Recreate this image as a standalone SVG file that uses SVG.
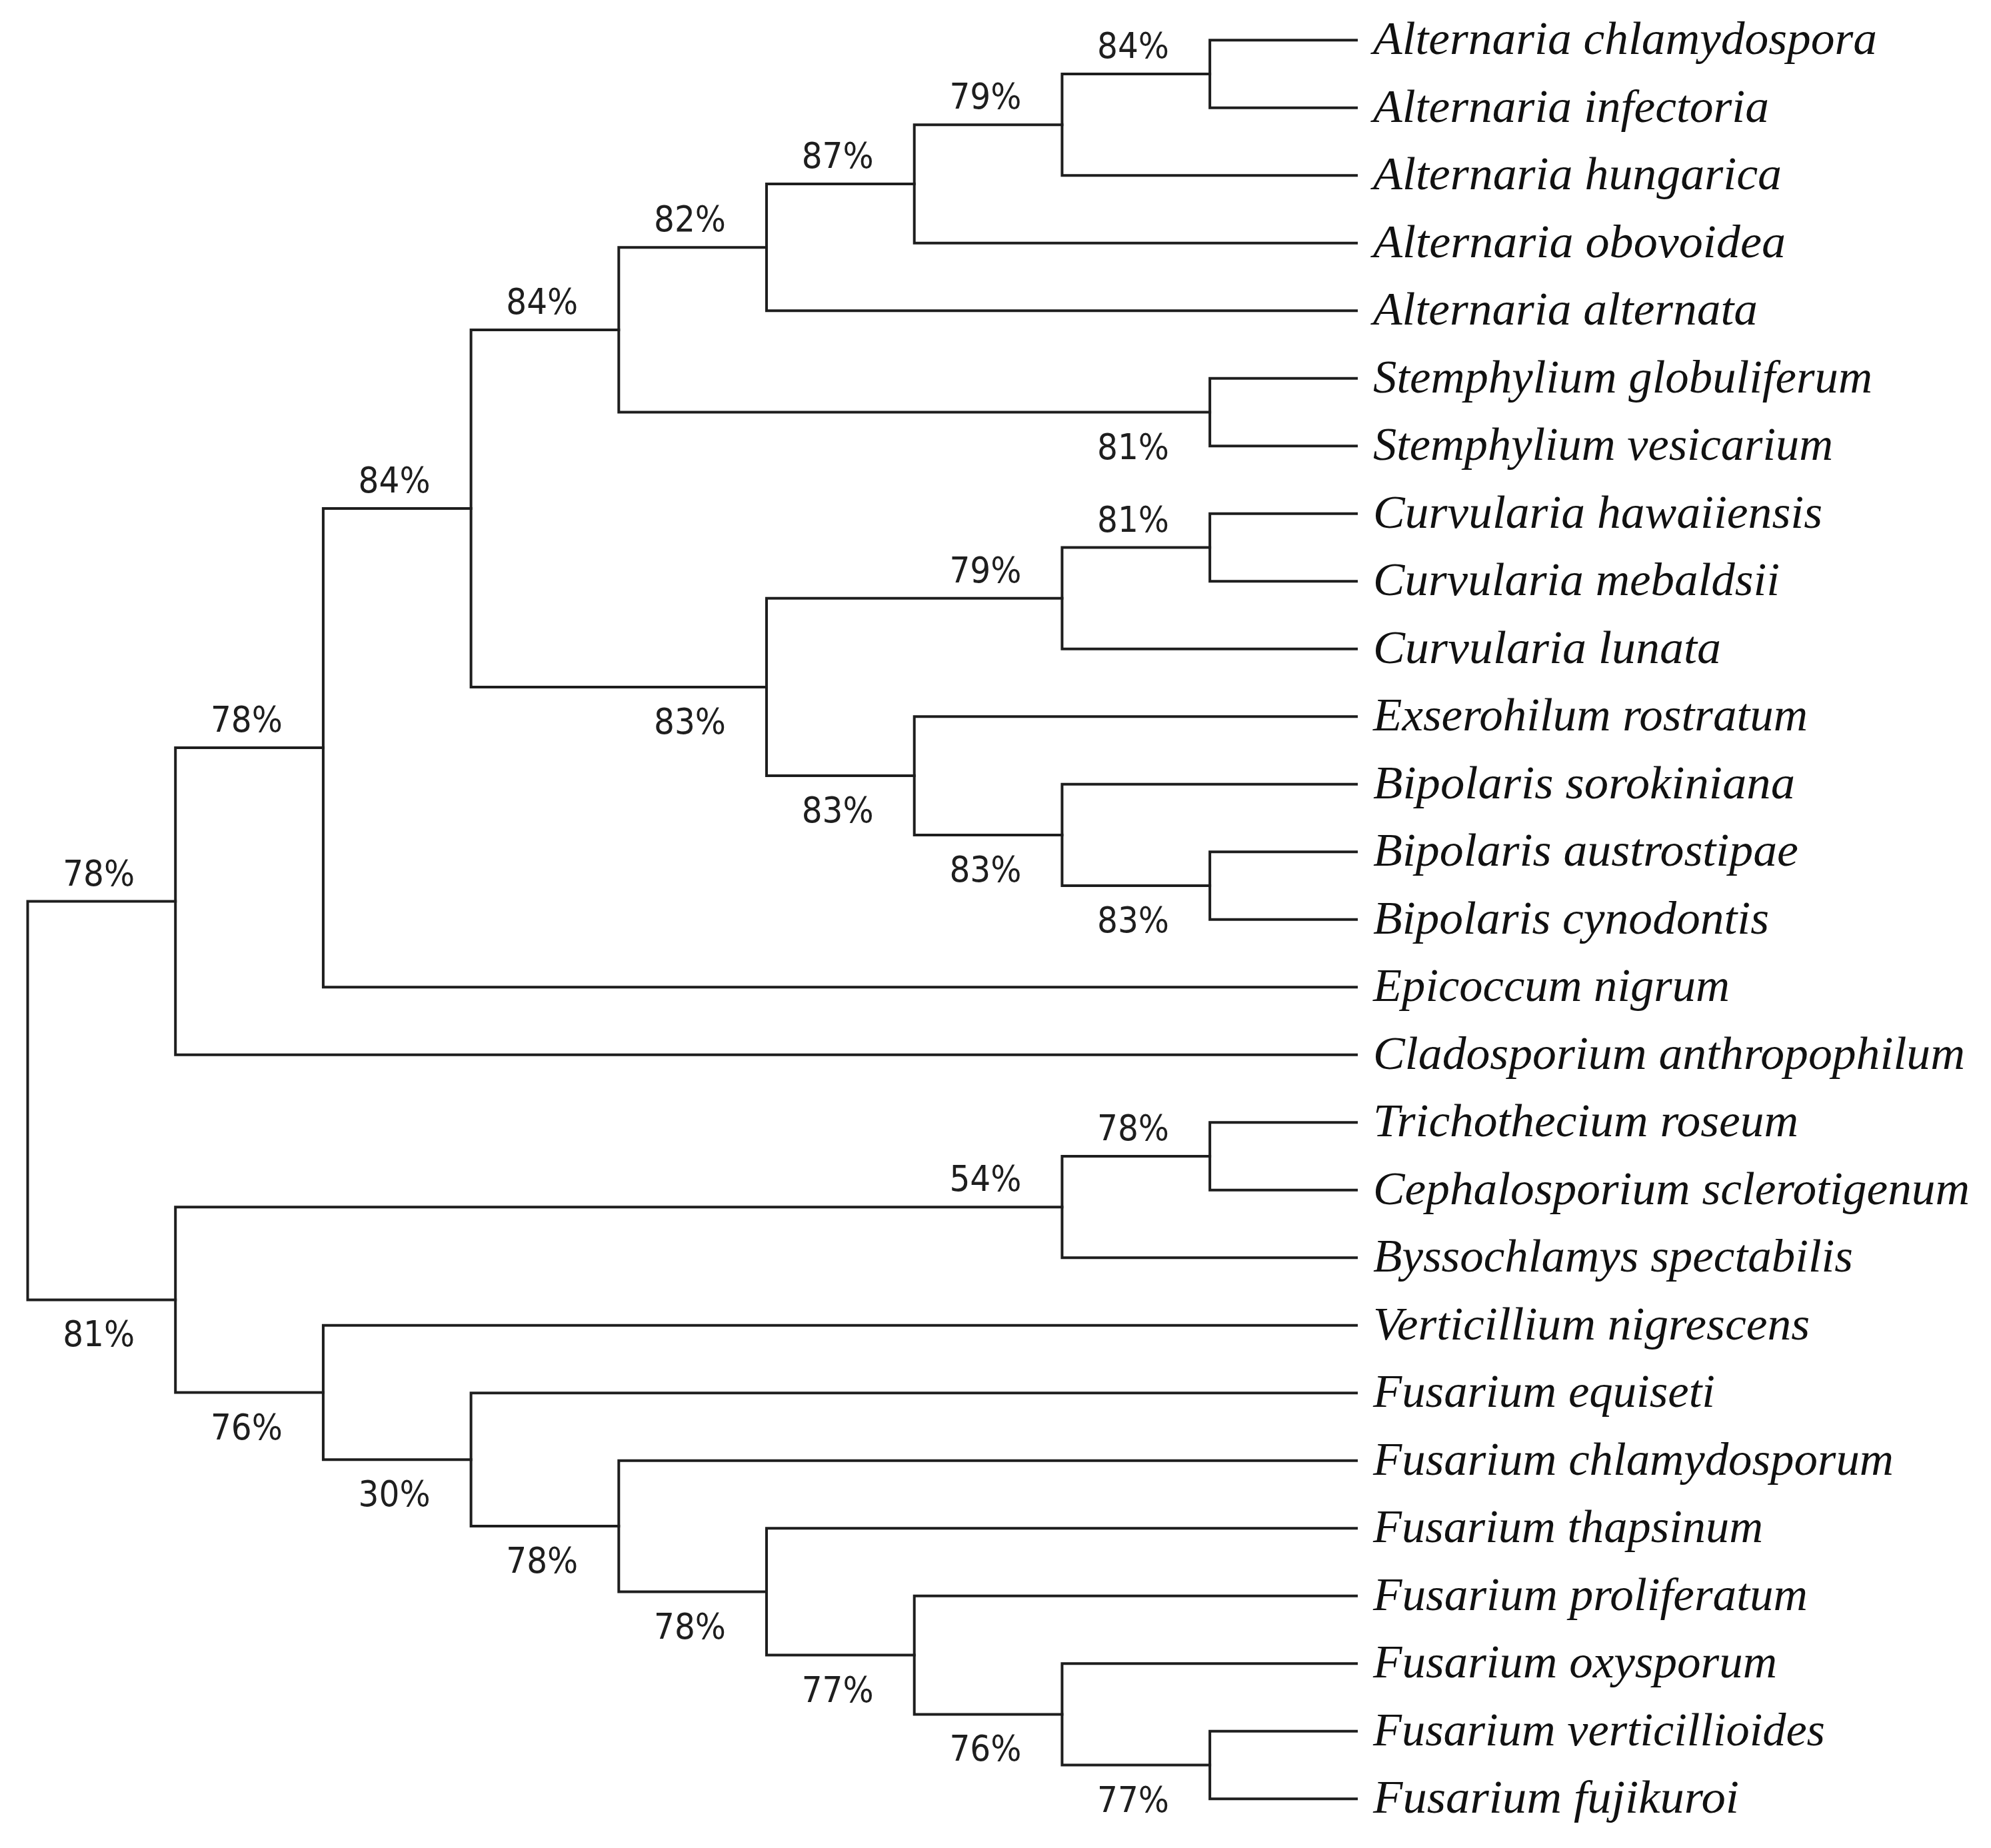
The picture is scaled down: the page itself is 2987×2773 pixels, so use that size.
<svg xmlns="http://www.w3.org/2000/svg" width="2987" height="2773" viewBox="0 0 2987 2773">
<style>
.br{fill:none;stroke:#1e1e1e;stroke-width:4;stroke-linejoin:miter;stroke-linecap:square}
.pc{font-family:"DejaVu Sans","Liberation Sans",sans-serif;font-size:53px;text-anchor:middle;fill:#1e1e1e}
.sp{font-family:"Liberation Serif","Times New Roman",serif;font-style:italic;font-size:70px;fill:#111}
</style>
<rect width="2987" height="2773" fill="#fff"/>
<g id="connectors">
<path class="br" d="M2035 60.3H1815.1V161.8H2035"/>
<path class="br" d="M1815.1 111.1H1593.4V263.3H2035"/>
<path class="br" d="M1593.4 187.2H1371.7V364.8H2035"/>
<path class="br" d="M1371.7 276H1150V466.3H2035"/>
<path class="br" d="M2035 567.8H1815.1V669.3H2035"/>
<path class="br" d="M1150 371.2H928.3V618.6H1815.1"/>
<path class="br" d="M2035 770.8H1815.1V872.3H2035"/>
<path class="br" d="M1815.1 821.6H1593.4V973.8H2035"/>
<path class="br" d="M2035 1278.3H1815.1V1379.8H2035"/>
<path class="br" d="M2035 1176.8H1593.4V1329.1H1815.1"/>
<path class="br" d="M2035 1075.3H1371.7V1252.9H1593.4"/>
<path class="br" d="M1593.4 897.7H1150V1164.1H1371.7"/>
<path class="br" d="M928.3 494.9H706.6V1030.9H1150"/>
<path class="br" d="M706.6 762.9H484.9V1481.3H2035"/>
<path class="br" d="M484.9 1122.1H263.2V1582.8H2035"/>
<path class="br" d="M2035 1684.3H1815.1V1785.8H2035"/>
<path class="br" d="M1815.1 1735.1H1593.4V1887.3H2035"/>
<path class="br" d="M2035 2597.8H1815.1V2699.3H2035"/>
<path class="br" d="M2035 2496.3H1593.4V2648.6H1815.1"/>
<path class="br" d="M2035 2394.8H1371.7V2572.4H1593.4"/>
<path class="br" d="M2035 2293.3H1150V2483.6H1371.7"/>
<path class="br" d="M2035 2191.8H928.3V2388.5H1150"/>
<path class="br" d="M2035 2090.3H706.6V2290.1H928.3"/>
<path class="br" d="M2035 1988.8H484.9V2190.2H706.6"/>
<path class="br" d="M1593.4 1811.2H263.2V2089.5H484.9"/>
<path class="br" d="M263.2 1352.5H41.5V1950.4H263.2"/>
</g>
<g id="support-labels">
<g id="n-alt-chl-inf"><text class="pc" x="1700" y="87" textLength="108" lengthAdjust="spacingAndGlyphs">84%</text></g>
<g id="n-alt-79"><text class="pc" x="1478.4" y="163.2" textLength="108" lengthAdjust="spacingAndGlyphs">79%</text></g>
<g id="n-alt-87"><text class="pc" x="1256.7" y="252" textLength="108" lengthAdjust="spacingAndGlyphs">87%</text></g>
<g id="n-alt-82"><text class="pc" x="1035" y="347.2" textLength="108" lengthAdjust="spacingAndGlyphs">82%</text></g>
<g id="n-stemph"><text class="pc" x="1700" y="688.6" textLength="108" lengthAdjust="spacingAndGlyphs">81%</text></g>
<g id="n-alt-stemph"><text class="pc" x="813.3" y="470.9" textLength="108" lengthAdjust="spacingAndGlyphs">84%</text></g>
<g id="n-curv-81"><text class="pc" x="1700" y="797.6" textLength="108" lengthAdjust="spacingAndGlyphs">81%</text></g>
<g id="n-curv-79"><text class="pc" x="1478.4" y="873.7" textLength="108" lengthAdjust="spacingAndGlyphs">79%</text></g>
<g id="n-bip-83a"><text class="pc" x="1700" y="1399.1" textLength="108" lengthAdjust="spacingAndGlyphs">83%</text></g>
<g id="n-bip-83b"><text class="pc" x="1478.4" y="1322.9" textLength="108" lengthAdjust="spacingAndGlyphs">83%</text></g>
<g id="n-exs-83"><text class="pc" x="1256.7" y="1234.1" textLength="108" lengthAdjust="spacingAndGlyphs">83%</text></g>
<g id="n-curv-bip-83"><text class="pc" x="1035" y="1100.9" textLength="108" lengthAdjust="spacingAndGlyphs">83%</text></g>
<g id="n-pleo-84"><text class="pc" x="591.6" y="738.9" textLength="108" lengthAdjust="spacingAndGlyphs">84%</text></g>
<g id="n-pleo-78"><text class="pc" x="369.9" y="1098.1" textLength="108" lengthAdjust="spacingAndGlyphs">78%</text></g>
<g id="n-upper-78"><text class="pc" x="148.2" y="1328.5" textLength="108" lengthAdjust="spacingAndGlyphs">78%</text></g>
<g id="n-tri-ceph"><text class="pc" x="1700" y="1711.1" textLength="108" lengthAdjust="spacingAndGlyphs">78%</text></g>
<g id="n-tri-byss"><text class="pc" x="1478.4" y="1787.2" textLength="108" lengthAdjust="spacingAndGlyphs">54%</text></g>
<g id="n-fus-77a"><text class="pc" x="1700" y="2718.6" textLength="108" lengthAdjust="spacingAndGlyphs">77%</text></g>
<g id="n-fus-76"><text class="pc" x="1478.4" y="2642.4" textLength="108" lengthAdjust="spacingAndGlyphs">76%</text></g>
<g id="n-fus-77b"><text class="pc" x="1256.7" y="2553.6" textLength="108" lengthAdjust="spacingAndGlyphs">77%</text></g>
<g id="n-fus-78a"><text class="pc" x="1035" y="2458.5" textLength="108" lengthAdjust="spacingAndGlyphs">78%</text></g>
<g id="n-fus-78b"><text class="pc" x="813.3" y="2360.1" textLength="108" lengthAdjust="spacingAndGlyphs">78%</text></g>
<g id="n-fus-30"><text class="pc" x="591.6" y="2260.2" textLength="108" lengthAdjust="spacingAndGlyphs">30%</text></g>
<g id="n-vert-fus"><text class="pc" x="369.9" y="2159.5" textLength="108" lengthAdjust="spacingAndGlyphs">76%</text></g>
<g id="n-lower-81"><text class="pc" x="148.2" y="2020.4" textLength="108" lengthAdjust="spacingAndGlyphs">81%</text></g>
</g>
<g id="leaves">
<g id="leaf-01"><text class="sp" x="2060" y="81.3" textLength="756" lengthAdjust="spacingAndGlyphs">Alternaria chlamydospora</text></g>
<g id="leaf-02"><text class="sp" x="2060" y="182.8" textLength="594" lengthAdjust="spacingAndGlyphs">Alternaria infectoria</text></g>
<g id="leaf-03"><text class="sp" x="2060" y="284.3" textLength="613" lengthAdjust="spacingAndGlyphs">Alternaria hungarica</text></g>
<g id="leaf-04"><text class="sp" x="2060" y="385.8" textLength="619" lengthAdjust="spacingAndGlyphs">Alternaria obovoidea</text></g>
<g id="leaf-05"><text class="sp" x="2060" y="487.3" textLength="577" lengthAdjust="spacingAndGlyphs">Alternaria alternata</text></g>
<g id="leaf-06"><text class="sp" x="2060" y="588.8" textLength="749" lengthAdjust="spacingAndGlyphs">Stemphylium globuliferum</text></g>
<g id="leaf-07"><text class="sp" x="2060" y="690.3" textLength="690" lengthAdjust="spacingAndGlyphs">Stemphylium vesicarium</text></g>
<g id="leaf-08"><text class="sp" x="2060" y="791.8" textLength="674" lengthAdjust="spacingAndGlyphs">Curvularia hawaiiensis</text></g>
<g id="leaf-09"><text class="sp" x="2060" y="893.3" textLength="610" lengthAdjust="spacingAndGlyphs">Curvularia mebaldsii</text></g>
<g id="leaf-10"><text class="sp" x="2060" y="994.8" textLength="522" lengthAdjust="spacingAndGlyphs">Curvularia lunata</text></g>
<g id="leaf-11"><text class="sp" x="2060" y="1096.3" textLength="652" lengthAdjust="spacingAndGlyphs">Exserohilum rostratum</text></g>
<g id="leaf-12"><text class="sp" x="2060" y="1197.8" textLength="633" lengthAdjust="spacingAndGlyphs">Bipolaris sorokiniana</text></g>
<g id="leaf-13"><text class="sp" x="2060" y="1299.3" textLength="638" lengthAdjust="spacingAndGlyphs">Bipolaris austrostipae</text></g>
<g id="leaf-14"><text class="sp" x="2060" y="1400.8" textLength="594" lengthAdjust="spacingAndGlyphs">Bipolaris cynodontis</text></g>
<g id="leaf-15"><text class="sp" x="2060" y="1502.3" textLength="535" lengthAdjust="spacingAndGlyphs">Epicoccum nigrum</text></g>
<g id="leaf-16"><text class="sp" x="2060" y="1603.8" textLength="888" lengthAdjust="spacingAndGlyphs">Cladosporium anthropophilum</text></g>
<g id="leaf-17"><text class="sp" x="2060" y="1705.3" textLength="638" lengthAdjust="spacingAndGlyphs">Trichothecium roseum</text></g>
<g id="leaf-18"><text class="sp" x="2060" y="1806.8" textLength="895" lengthAdjust="spacingAndGlyphs">Cephalosporium sclerotigenum</text></g>
<g id="leaf-19"><text class="sp" x="2060" y="1908.3" textLength="720" lengthAdjust="spacingAndGlyphs">Byssochlamys spectabilis</text></g>
<g id="leaf-20"><text class="sp" x="2060" y="2009.8" textLength="655" lengthAdjust="spacingAndGlyphs">Verticillium nigrescens</text></g>
<g id="leaf-21"><text class="sp" x="2060" y="2111.3" textLength="513" lengthAdjust="spacingAndGlyphs">Fusarium equiseti</text></g>
<g id="leaf-22"><text class="sp" x="2060" y="2212.8" textLength="781" lengthAdjust="spacingAndGlyphs">Fusarium chlamydosporum</text></g>
<g id="leaf-23"><text class="sp" x="2060" y="2314.3" textLength="585" lengthAdjust="spacingAndGlyphs">Fusarium thapsinum</text></g>
<g id="leaf-24"><text class="sp" x="2060" y="2415.8" textLength="652" lengthAdjust="spacingAndGlyphs">Fusarium proliferatum</text></g>
<g id="leaf-25"><text class="sp" x="2060" y="2517.3" textLength="606" lengthAdjust="spacingAndGlyphs">Fusarium oxysporum</text></g>
<g id="leaf-26"><text class="sp" x="2060" y="2618.8" textLength="678" lengthAdjust="spacingAndGlyphs">Fusarium verticillioides</text></g>
<g id="leaf-27"><text class="sp" x="2060" y="2720.3" textLength="549" lengthAdjust="spacingAndGlyphs">Fusarium fujikuroi</text></g>
</g>
</svg>
